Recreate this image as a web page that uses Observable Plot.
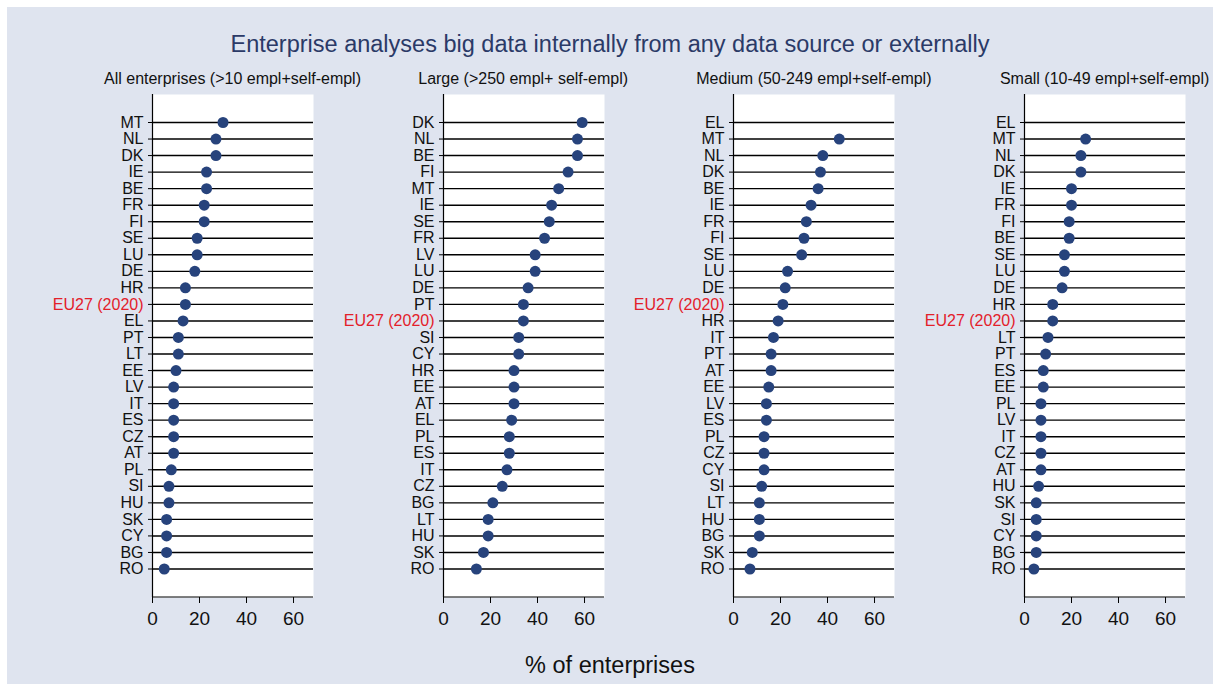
<!DOCTYPE html>
<html>
<head>
<meta charset="utf-8">
<script src="https://cdn.jsdelivr.net/npm/d3@7"></script>
<script src="https://cdn.jsdelivr.net/npm/@observablehq/plot@0.6"></script>
<style>
  html, body { margin: 0; padding: 0; background: #ffffff; }
  body { width: 1213px; height: 684px; position: relative; overflow: hidden; font-family: "Liberation Sans", Arial, sans-serif; }
  #bg { position: absolute; left: 7px; top: 7px; width: 1206px; height: 677px; background: #dfe4ef; }
  .title { position: absolute; left: 7px; width: 1206px; top: 29px; text-align: center; font-size: 23.5px; color: #2b3a67; line-height: 30px; }
  .ptitle { position: absolute; top: 69px; width: 320px; text-align: center; font-size: 16px; color: #111; line-height: 20px; white-space: nowrap; }
  .panel { position: absolute; top: 94px; }
  .panel svg { overflow: visible; background: transparent; }
  .xlabel { position: absolute; left: 7px; width: 1206px; top: 650px; text-align: center; font-size: 23.5px; color: #111; line-height: 30px; }
</style>
</head>
<body>
<div id="bg"></div>
<div class="title">Enterprise analyses big data internally from any data source or externally</div>
<div class="xlabel">% of enterprises</div>
<script>
const panelTitles = [
  "All enterprises (>10 empl+self-empl)",
  "Large (>250 empl+ self-empl)",
  "Medium (50-249 empl+self-empl)",
  "Small (10-49 empl+self-empl)"
];

const allCountries = ["MT","NL","DK","IE","BE","FR","FI","SE","LU","DE","HR","EU27 (2020)","EL","PT","LT","EE","LV","IT","ES","CZ","AT","PL","SI","HU","SK","CY","BG","RO"];
const allValues    = [30,27,27,23,23,22,22,19,19,18,14,14,13,11,11,10,9,9,9,9,9,8,7,7,6,6,6,5];

const largeCountries = ["DK","NL","BE","FI","MT","IE","SE","FR","LV","LU","DE","PT","EU27 (2020)","SI","CY","HR","EE","AT","EL","PL","ES","IT","CZ","BG","LT","HU","SK","RO"];
const largeValues    = [59,57,57,53,49,46,45,43,39,39,36,34,34,32,32,30,30,30,29,28,28,27,25,21,19,19,17,14];

const mediumCountries = ["EL","MT","NL","DK","BE","IE","FR","FI","SE","LU","DE","EU27 (2020)","HR","IT","PT","AT","EE","LV","ES","PL","CZ","CY","SI","LT","HU","BG","SK","RO"];
const mediumValues    = [null,45,38,37,36,33,31,30,29,23,22,21,19,17,16,16,15,14,14,13,13,13,12,11,11,11,8,7];

const smallCountries = ["EL","MT","NL","DK","IE","FR","FI","BE","SE","LU","DE","HR","EU27 (2020)","LT","PT","ES","EE","PL","LV","IT","CZ","AT","HU","SK","SI","CY","BG","RO"];
const smallValues    = [null,26,24,24,20,20,19,19,17,17,16,12,12,10,9,8,8,7,7,7,7,7,6,5,5,5,5,4];

const xTicks = [0, 20, 40, 60];
const highlight = "EU27 (2020)";

const panels = [
  [allCountries, allValues],
  [largeCountries, largeValues],
  [mediumCountries, mediumValues],
  [smallCountries, smallValues]
];

const PANEL_STEP = 290.7;
const ML = 130, PW = 161, PH = 503, MB = 40;
const XMAX = 68.5;

panels.forEach(([countries, values], i) => {
  const data = countries.map((c, k) => ({c, v: values[k]}));
  const left = 22 + i * PANEL_STEP;

  const bottomLine = (index, scales, vals, dims) => {
    const g = d3.create("svg:g");
    const w = dims ? dims.width : ML + PW;
    const h = dims ? dims.height : PH + MB;
    const mb = dims ? dims.marginBottom : MB;
    const ml = dims ? dims.marginLeft : ML;
    const mr = dims ? dims.marginRight : 0;
    g.append("line")
      .attr("x1", ml).attr("x2", w - mr)
      .attr("y1", h - mb).attr("y2", h - mb)
      .attr("stroke", "#000").attr("stroke-width", 1.2);
    return g.node();
  };

  const chart = Plot.plot({
    width: ML + PW,
    height: PH + MB,
    marginLeft: ML,
    marginRight: 0,
    marginTop: 0,
    marginBottom: MB,
    style: {background: "transparent", fontFamily: "Liberation Sans, Arial, sans-serif", color: "#111"},
    x: {domain: [0, XMAX], label: null},
    y: {type: "point", domain: countries, range: [28, 474.5], padding: 0, round: false, label: null},
    marks: [
      Plot.frame({fill: "white", stroke: null}),
      Plot.ruleY(data, {y: "c", stroke: "#000", strokeWidth: 1.4}),
      Plot.ruleX([0], {stroke: "#000", strokeWidth: 1.2}),
      bottomLine,
      Plot.axisY({tickSize: 4, tickFormat: () => "", stroke: "#000"}),
      Plot.text(data, {
        y: "c", text: "c", frameAnchor: "left", dx: -9, textAnchor: "end",
        fontSize: 16,
        fill: d => d.c === highlight ? "#e3202a" : "#111"
      }),
      Plot.axisX({ticks: xTicks, tickSize: 6, tickPadding: 8, fontSize: 19, stroke: "#000", fill: "#111", label: null}),
      Plot.dot(data.filter(d => d.v != null), {x: "v", y: "c", r: 5.5, fill: "#27437c", stroke: null})
    ]
  });

  const wrap = document.createElement("div");
  wrap.className = "panel";
  wrap.style.left = left + "px";
  wrap.appendChild(chart);
  document.body.appendChild(wrap);

  const t = document.createElement("div");
  t.className = "ptitle";
  t.textContent = panelTitles[i];
  t.style.left = (left + ML + PW / 2 - 160) + "px";
  document.body.appendChild(t);
});
</script>
</body>
</html>
